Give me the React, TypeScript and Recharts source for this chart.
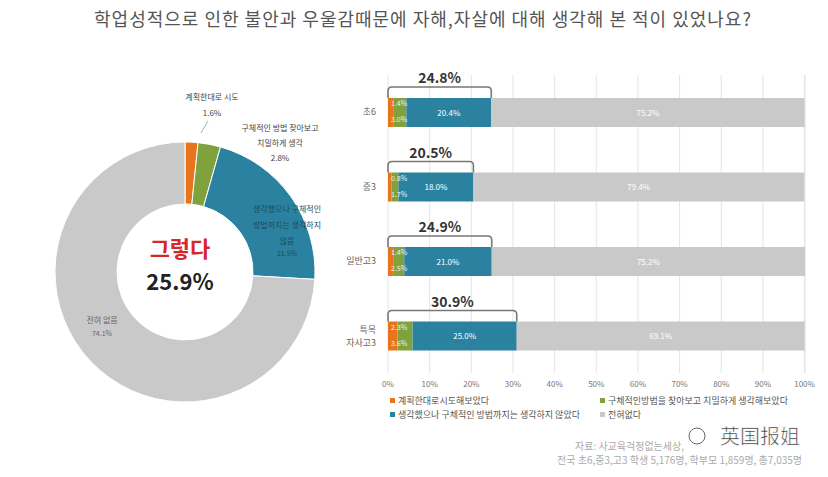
import React from 'react';
import { PieChart, Pie, Cell, BarChart, Bar, XAxis, YAxis, CartesianGrid, LabelList } from 'recharts';

// bar chart data (percent)
const categories = ['초6', '중3', '일반고3', '특목\n자사고3'];
const planned = [1.4, 0.8, 1.4, 2.3];
const searched = [3.0, 1.7, 2.5, 3.6];
const thought = [20.4, 18.0, 21.0, 25.0];
const never = [75.2, 79.4, 75.2, 69.1];
const totals = ['24.8%', '20.5%', '24.9%', '30.9%'];
const xTicks = [0, 10, 20, 30, 40, 50, 60, 70, 80, 90, 100];

// donut data
const pieNames = ['계획한대로 시도', '구체적인 방법 찾아보고 치밀하게 생각', '생각했으나 구체적인 방법까지는 생각하지 않음', '전혀 없음'];
const pieValues = [1.6, 2.8, 21.5, 74.1];

const legendNames = [
  '계획한대로시도해보았다',
  '구체적인방법을 찾아보고 치밀하게 생각해보았다',
  '생각했으나 구체적인 방법까지는 생각하지 않았다',
  '전혀없다',
];

const ORANGE = '#e8741c';
const GREEN = '#7fa23c';
const TEAL = '#2b82a0';
const GRAY = '#c9c9c9';
const colors = [ORANGE, GREEN, TEAL, GRAY];
const FONT = '"Noto Sans CJK KR", "Noto Sans", sans-serif';

const barData = categories.map((name, i) => ({
  name,
  planned: planned[i],
  searched: searched[i],
  thought: thought[i],
  never: never[i],
}));

const pieData = pieNames.map((name, i) => ({ name, value: pieValues[i] }));

const CategoryTick = (props: any) => {
  const { x, y, payload } = props;
  const lines = String(payload.value).split('\n');
  return (
    <text x={x - 4} y={y} textAnchor="end" fontSize={9} fill="#666" fontFamily={FONT}>
      {lines.map((l, k) => (
        <tspan key={k} x={x - 4} dy={k === 0 ? (lines.length > 1 ? -3 : 3) : 13}>{l}</tspan>
      ))}
    </text>
  );
};

// small stacked labels on the thin orange / green pieces
const SmallLabel = (pos: 'top' | 'bottom', values: number[]) => (props: any) => {
  const { x, y, width, height, index } = props;
  const ppu = width / values[index];
  const x0 = pos === 'top' ? x : x - planned[index] * ppu;
  const ty = pos === 'top' ? y + 8 : y + height - 5;
  return (
    <text x={x0 + 3} y={ty} fontSize={7} fill="#f4f4f4" fontFamily={FONT}>
      {values[index].toFixed(1)}%
    </text>
  );
};

const CenterLabel = (props: any) => {
  const { x, y, width, height, value } = props;
  return (
    <text x={x + width / 2} y={y + height / 2 + 3} textAnchor="middle" fontSize={8} fill="#fff" fontFamily={FONT}>
      {Number(value).toFixed(1)}%
    </text>
  );
};

// bracket over the "yes" part and the total
const BracketLabel = (props: any) => {
  const { x, y, width, height, value, index } = props;
  const ppu = width / value;
  const x0 = x - (planned[index] + searched[index]) * ppu;
  const x1 = x + width;
  const top = y - 11;
  const r = 4;
  const d = `M${x0},${y} L${x0},${top + r} Q${x0},${top} ${x0 + r},${top} L${x1 - r},${top} Q${x1},${top} ${x1},${top + r} L${x1},${y}`;
  return (
    <g>
      <path d={d} fill="none" stroke="#777" strokeWidth={1.6} />
      <text x={(x0 + x1) / 2} y={top - 4} textAnchor="middle" fontSize={14} fontWeight={700} fill="#333" fontFamily={FONT}>
        {totals[index]}
      </text>
      <text x={x + width / 2} y={y + height / 2 + 3} textAnchor="middle" fontSize={8} fill="#fff" fontFamily={FONT}>
        {Number(value).toFixed(1)}%
      </text>
    </g>
  );
};

export default function App() {
  return (
    <div style={{ position: 'absolute', left: 0, top: 0, width: 828, height: 477, background: '#fff', fontFamily: FONT, overflow: 'hidden' }}>
      <div style={{ position: 'absolute', left: 0, top: 5, width: 846, textAlign: 'center', fontSize: 18, letterSpacing: 1, color: '#555' }}>
        학업성적으로 인한 불안과 우울감때문에 자해,자살에 대해 생각해 본 적이 있었나요?
      </div>

      <div style={{ position: 'absolute', left: 0, top: 87 }}>
        <PieChart width={360} height={360}>
          <Pie
            data={pieData}
            dataKey="value"
            cx={180}
            cy={180}
            innerRadius={68}
            outerRadius={130}
            startAngle={90}
            endAngle={-270}
            stroke="#fff"
            strokeWidth={1}
            isAnimationActive={false}
          >
            {pieData.map((d, i) => (
              <Cell key={d.name} fill={colors[i]} />
            ))}
          </Pie>
        </PieChart>
      </div>

      <div style={{ position: 'absolute', left: 300, top: 0 }}>
        <BarChart
          width={528}
          height={477}
          data={barData}
          layout="vertical"
          margin={{ top: 75, right: 23, bottom: 84, left: 28 }}
          barSize={29}
        >
          <CartesianGrid horizontal={false} stroke="#e4e4e4" />
          <XAxis
            type="number"
            domain={[0, 100]}
            ticks={xTicks}
            tickFormatter={(v) => `${v}%`}
            axisLine={false}
            tickLine={false}
            height={20}
            tick={{ fontSize: 8, fill: '#777', fontFamily: FONT }}
          />
          <YAxis type="category" dataKey="name" width={60} axisLine={false} tickLine={false} tick={<CategoryTick />} />
          <Bar dataKey="planned" stackId="a" fill={ORANGE} isAnimationActive={false}>
            <LabelList dataKey="planned" content={SmallLabel('top', planned)} />
          </Bar>
          <Bar dataKey="searched" stackId="a" fill={GREEN} isAnimationActive={false}>
            <LabelList dataKey="searched" content={SmallLabel('bottom', searched)} />
          </Bar>
          <Bar dataKey="thought" stackId="a" fill={TEAL} isAnimationActive={false}>
            <LabelList dataKey="thought" content={<BracketLabel />} />
          </Bar>
          <Bar dataKey="never" stackId="a" fill={GRAY} isAnimationActive={false}>
            <LabelList dataKey="never" content={<CenterLabel />} />
          </Bar>
        </BarChart>
      </div>

      <svg width={828} height={477} style={{ position: 'absolute', left: 0, top: 0, pointerEvents: 'none' }} fontFamily={FONT}>
        <text x={180} y={257} textAnchor="middle" fontSize={22} fontWeight={700} fill="#d7262a">그렇다</text>
        <text x={180} y={290} textAnchor="middle" fontSize={22} fontWeight={700} fill="#222">25.9%</text>

        <text x={212} y={100} textAnchor="middle" fontSize={8} fill="#444">계획한대로 시도</text>
        <text x={212} y={116} textAnchor="middle" fontSize={8} fill="#444">1.6%</text>
        <line x1={208} y1={121} x2={201} y2={133} stroke="#999" strokeWidth={0.8} />
        <text x={280} y={131} textAnchor="middle" fontSize={8} fill="#444">구체적인 방법 찾아보고</text>
        <text x={280} y={146} textAnchor="middle" fontSize={8} fill="#444">치밀하게 생각</text>
        <text x={280} y={161} textAnchor="middle" fontSize={8} fill="#444">2.8%</text>
        <text x={287} y={212} textAnchor="middle" fontSize={8} fill="#1d4a5c">생각했으나 구체적인</text>
        <text x={287} y={228} textAnchor="middle" fontSize={8} fill="#1d4a5c">방법까지는 생각하지</text>
        <text x={287} y={244} textAnchor="middle" fontSize={8} fill="#1d4a5c">않음</text>
        <text x={287} y={256} textAnchor="middle" fontSize={7} fill="#1d4a5c">21.5%</text>
        <text x={102} y={323} textAnchor="middle" fontSize={8} fill="#666">전혀 없음</text>
        <text x={102} y={336} textAnchor="middle" fontSize={7} fill="#666">74.1%</text>

        <rect x={390} y={398} width={5} height={5} fill={ORANGE} />
        <text x={398} y={404} fontSize={9} fill="#555">{legendNames[0]}</text>
        <rect x={600} y={398} width={5} height={5} fill={GREEN} />
        <text x={608} y={404} fontSize={9} fill="#555">{legendNames[1]}</text>
        <rect x={390} y={412} width={5} height={5} fill={TEAL} />
        <text x={398} y={418} fontSize={9} fill="#555">{legendNames[2]}</text>
        <rect x={600} y={412} width={5} height={5} fill={GRAY} />
        <text x={608} y={418} fontSize={9} fill="#555">{legendNames[3]}</text>

        <text x={684} y={450} textAnchor="end" fontSize={10} fill="#aaa">자료: 사교육걱정없는세상,</text>
        <text x={802} y={464} textAnchor="end" fontSize={10} fill="#aaa">전국 초6,중3,고3 학생 5,176명, 학부모 1,859명, 총7,035명</text>

        <circle cx={697} cy={436} r={8} fill="#fff" stroke="#666" strokeWidth={1} />
        <text x={720} y={444} fontSize={20} fill="#333" stroke="#fff" strokeWidth={0.6} fontFamily={'"Noto Sans CJK SC", sans-serif'}>英国报姐</text>
      </svg>
    </div>
  );
}
